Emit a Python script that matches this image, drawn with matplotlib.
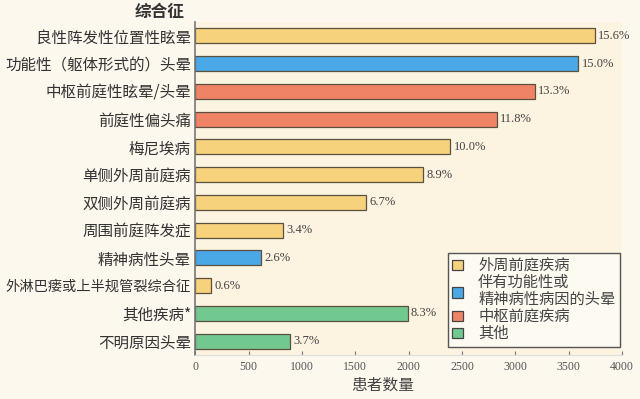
import matplotlib.pyplot as plt
from matplotlib.patches import Patch

plt.rcParams['font.family'] = ['Noto Sans CJK SC', 'DejaVu Sans']

# dane
labels = ['良性阵发性位置性眩晕', '功能性（躯体形式的）头晕', '中枢前庭性眩晕/头晕', '前庭性偏头痛',
          '梅尼埃病', '单侧外周前庭病', '双侧外周前庭病', '周围前庭阵发症', '精神病性头晕',
          '外淋巴瘘或上半规管裂综合征', '其他疾病*', '不明原因头晕']
counts = [3747, 3590, 3185, 2830, 2392, 2135, 1603, 822, 620, 147, 1990, 890]
percents = ['15.6%', '15.0%', '13.3%', '11.8%', '10.0%', '8.9%', '6.7%', '3.4%', '2.6%',
            '0.6%', '8.3%', '3.7%']
groups = [0, 1, 2, 2, 0, 0, 0, 0, 1, 0, 3, 3]

group_names = ['外周前庭疾病', '伴有功能性或\n精神病性病因的头晕', '中枢前庭疾病', '其他']
group_colors = ['#f6d27c', '#4aa8e6', '#ef8366', '#72c98f']

fig = plt.figure(figsize=(6.4, 3.99), dpi=100, facecolor='#fdf8ee')
ax = fig.add_axes([0.305, 0.11, 0.667, 0.835])
ax.set_facecolor('#fcf3e0')

y = list(range(len(labels)))
colors = [group_colors[g] for g in groups]
ax.barh(y, counts, height=0.54, color=colors, edgecolor='#5a5040', linewidth=0.9)

for yi, c, p in zip(y, counts, percents):
    ax.text(c + 30, yi, p, va='center', ha='left', fontsize=9,
            family='Liberation Serif', color='#444444')

ax.set_ylim(len(labels) - 0.5, -0.5)
ax.set_xlim(0, 4000)
ax.set_yticks(y)
ax.set_yticklabels(labels, fontsize=11.2, color='#333333')
# najdluzsza etykieta - mniejsza czcionka
ax.get_yticklabels()[9].set_fontsize(10.3)
ax.set_xticks(range(0, 4001, 500))
ax.tick_params(axis='x', direction='in', length=3, labelsize=8.5, labelcolor='#555555',
               color='#777777', pad=4)
ax.tick_params(axis='y', length=0, pad=3)
for lab in ax.get_xticklabels():
    lab.set_family('Liberation Serif')

for s in ['top', 'right']:
    ax.spines[s].set_visible(False)
ax.spines['bottom'].set_color('#dddddd')
ax.spines['left'].set_color('#777777')
ax.spines['left'].set_linewidth(1.2)

fig.text(185 / 640, 1 - 12 / 399, '综合征', ha='right', va='center', fontsize=12,
         fontweight='bold', color='#333333')
fig.text(383 / 640, 1 - 385 / 399, '患者数量', ha='center', va='center', fontsize=11.3,
         color='#444444')

handles = [Patch(facecolor=c, edgecolor='#444444', linewidth=0.9) for c in group_colors]
leg = ax.legend(handles, group_names, loc='lower right', bbox_to_anchor=(0.995, 0.025),
                fontsize=11, fancybox=False, edgecolor='#555555', facecolor='#fdfaf2',
                framealpha=1, handlelength=0.7, handleheight=0.7, labelspacing=0.0,
                borderpad=0.3, handletextpad=1.0, borderaxespad=0)
leg.get_frame().set_linewidth(1.0)
for t in leg.get_texts():
    t.set_color('#444444')
    t.set_linespacing(1.0)

fig.savefig('out.png', dpi=100, facecolor=fig.get_facecolor())
